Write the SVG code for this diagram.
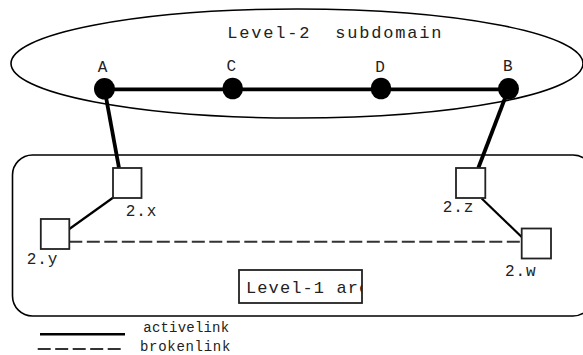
<svg xmlns="http://www.w3.org/2000/svg" width="583" height="355" viewBox="0 0 583 355">
<style>
.t{font-family:"Liberation Mono","DejaVu Sans Mono",monospace;fill:#222;white-space:pre}
.lbl{font-size:16px;letter-spacing:0.9px}
.abcd{font-size:16px;text-anchor:middle}
.outline{fill:none;stroke:#000;stroke-width:1.6}
.box{fill:#fff;stroke:#222;stroke-width:1.8}
.dot{fill:#000}
.thick{stroke:#000;stroke-width:3.8;fill:none}
.thin{stroke:#000;stroke-width:2.2;fill:none}
.dash{stroke:#333;stroke-width:2;stroke-dasharray:13 4.5;fill:none}
</style>
<defs>
<clipPath id="clipL1"><rect x="239" y="270" width="123" height="33"/></clipPath>
</defs>
<g id="level2-domain">
<ellipse class="outline" cx="297" cy="63.5" rx="286" ry="54.5"/>
<text class="t" x="227.3" y="38.3" style="font-size:17px;letter-spacing:1.8px">Level-2  subdomain</text>
</g>
<g id="level1-area">
<rect class="outline" x="12.5" y="155" width="580.5" height="161" rx="20" ry="20"/>
<rect x="239" y="270" width="123" height="33" fill="#fff" stroke="#222" stroke-width="1.8"/>
<text class="t" x="246" y="293" clip-path="url(#clipL1)" style="font-size:17px;letter-spacing:1.1px">Level-1 area</text>
</g>
<g id="connectors">
<line class="thick" x1="104.5" y1="89.3" x2="508.5" y2="89.3"/>
<line class="thick" x1="104.5" y1="89" x2="119" y2="168"/>
<line class="thick" x1="508.5" y1="89" x2="478.3" y2="168"/>
<line class="thin" x1="113.3" y1="197.5" x2="69.3" y2="229"/>
<line class="thin" x1="481.7" y1="198.5" x2="521.7" y2="237"/>
<line class="dash" x1="69.3" y1="241.7" x2="521.7" y2="241.7"/>
</g>
<g id="node-A"><ellipse class="dot" cx="104.5" cy="88.8" rx="10.5" ry="10.8"/><text class="t abcd" x="102.5" y="71.5">A</text></g>
<g id="node-C"><ellipse class="dot" cx="232.7" cy="88.5" rx="10.3" ry="10.8"/><text class="t abcd" x="231.3" y="70.5">C</text></g>
<g id="node-D"><ellipse class="dot" cx="381" cy="88.5" rx="10.3" ry="10.8"/><text class="t abcd" x="380" y="71.5">D</text></g>
<g id="node-B"><ellipse class="dot" cx="508.5" cy="88.8" rx="10.5" ry="10.8"/><text class="t abcd" x="507.7" y="70.5">B</text></g>
<g id="node-2x"><rect class="box" x="113" y="168" width="28.5" height="30"/><text class="t lbl" x="125.7" y="215.5">2.x</text></g>
<g id="node-2y"><rect class="box" x="40.8" y="219" width="28.5" height="30"/><text class="t lbl" x="26.7" y="263.5">2.y</text></g>
<g id="node-2z"><rect class="box" x="456" y="168" width="29.3" height="30"/><text class="t lbl" x="442.7" y="211.7">2.z</text></g>
<g id="node-2w"><rect class="box" x="521.7" y="228.5" width="29.3" height="30"/><text class="t lbl" x="505" y="275.7">2.w</text></g>
<g id="legend">
<line x1="40" y1="334.3" x2="125" y2="334.3" stroke="#000" stroke-width="2.6"/>
<line class="dash" x1="37.7" y1="349" x2="121.7" y2="349"/>
<text class="t" x="143.3" y="332.3" style="font-size:14px;letter-spacing:0.2px">activelink</text>
<text class="t" x="140" y="350.7" style="font-size:14px;letter-spacing:0.7px">brokenlink</text>
</g>
</svg>
